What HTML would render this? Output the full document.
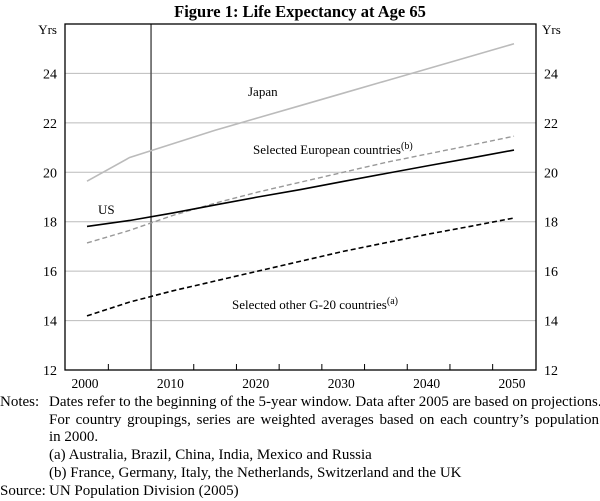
<!DOCTYPE html>
<html><head><meta charset="utf-8"><style>
body{margin:0;background:#fff;font-family:"Liberation Serif",serif;color:#000}
#wrap{position:relative;width:600px;height:501px;overflow:hidden}
.notes{position:absolute;left:0;top:394px;font-size:15px;line-height:17.7px;white-space:nowrap}
.ind{position:relative;padding-left:49px}
.lbl{position:absolute;left:0;top:0}
</style></head><body>
<div id="wrap">
<svg id="chart" width="600" height="394" style="position:absolute;left:0;top:0"></svg>
<div class="notes">
<div class="ind"><span class="lbl">Notes:</span>Dates refer to the beginning of the 5-year window. Data after 2005 are based on projections.</div>
<div class="ind" style="width:550px;text-align:justify;text-align-last:justify">For country groupings, series are weighted averages based on each country’s population</div>
<div class="ind">in 2000.</div>
<div class="ind">(a) Australia, Brazil, China, India, Mexico and Russia</div>
<div class="ind">(b) France, Germany, Italy, the Netherlands, Switzerland and the UK</div>
<div class="ind"><span class="lbl">Source:</span>UN Population Division (2005)</div>
</div>
</div>
<script>
const years=[2000,2005,2010,2015,2020,2025,2030,2035,2040,2045,2050];
const japan=[19.64,20.6,21.15,21.7,22.2,22.7,23.2,23.7,24.2,24.7,25.2];
const europe=[17.14,17.65,18.25,18.75,19.2,19.6,20.0,20.4,20.75,21.1,21.46];
const us=[17.81,18.05,18.35,18.68,19.0,19.3,19.63,19.95,20.27,20.58,20.9];
const other=[14.19,14.75,15.2,15.6,16.0,16.4,16.8,17.15,17.5,17.82,18.15];
const yTicks=[12,14,16,18,20,22,24];
const xLabels=[2000,2010,2020,2030,2040,2050];
const marker=2007.5;
const NS="http://www.w3.org/2000/svg";
const svg=document.getElementById('chart');
const L=65,R=536,T=24,B=370;
const x=v=>87+(v-2000)*(514-87)/50;
const y=v=>B-(v-12)*(B-T)/14;
function mk(tag,attrs,parent){const e=document.createElementNS(NS,tag);for(const k in attrs)e.setAttribute(k,attrs[k]);(parent||svg).appendChild(e);return e;}
let t=mk('text',{x:300,y:17,'text-anchor':'middle','font-size':'16.5','font-weight':'bold','font-family':'Liberation Serif, serif'});
t.textContent='Figure 1: Life Expectancy at Age 65';


yTicks.forEach(v=>{
  if(v>12){let g=mk('line',{x1:L,x2:R,y1:y(v),y2:y(v),stroke:'#bbb','stroke-width':1});
  
  }
  let a=mk('text',{x:L-8,y:y(v)+5,'text-anchor':'end','font-size':'14'});a.textContent=v;
  
  
  let b=mk('text',{x:R+8,y:y(v)+5,'text-anchor':'start','font-size':'14'});b.textContent=v;
  
  
});
let u1=mk('text',{x:L-8,y:34,'text-anchor':'end','font-size':'13'});u1.textContent='Yrs';


let u2=mk('text',{x:R+6,y:34,'text-anchor':'start','font-size':'13'});u2.textContent='Yrs';


for(let yr=2002.5;yr<2052;yr+=5){let tk=mk('line',{x1:x(yr),x2:x(yr),y1:B,y2:B-6,stroke:'#000'});
  
  }
xLabels.forEach(v=>{let a=mk('text',{x:x(v)-2,y:388,'text-anchor':'middle','font-size':'13.5'});a.textContent=v;
  
  });
let vl=mk('line',{x1:x(marker),x2:x(marker),y1:T,y2:B,stroke:'#555','stroke-width':1.5});


function series(vals,stroke,dash,w,name){
  const p=mk('polyline',{points:vals.map((v,i)=>x(years[i])+','+y(v)).join(' '),fill:'none',stroke:stroke,'stroke-width':w,'stroke-dasharray':dash});
  
  
}
series(japan,'#bbb','none',1.6,'japan-line');
series(europe,'#999','5,3',1.4,'europe-line');
series(us,'#000','none',1.6,'us-line');
series(other,'#000','5,3',1.6,'other-g20-line');
let fr=mk('rect',{x:L,y:T,width:R-L,height:B-T,fill:'none',stroke:'#000','stroke-width':1.3});


function lab(txt,sup,lx,ly,name){
  const e=mk('text',{x:lx,y:ly,'font-size':'13'});e.textContent=txt;
  if(sup){const s=mk('tspan',{dy:-5,'font-size':'10'},e);s.textContent=sup;}
  
  
}
lab('Japan','',248,96,'japan-label');
lab('Selected European countries','(b)',253,154,'europe-label');
lab('US','',98,214,'us-label');
lab('Selected other G-20 countries','(a)',232,309,'other-g20-label');
</script>
</body></html>
